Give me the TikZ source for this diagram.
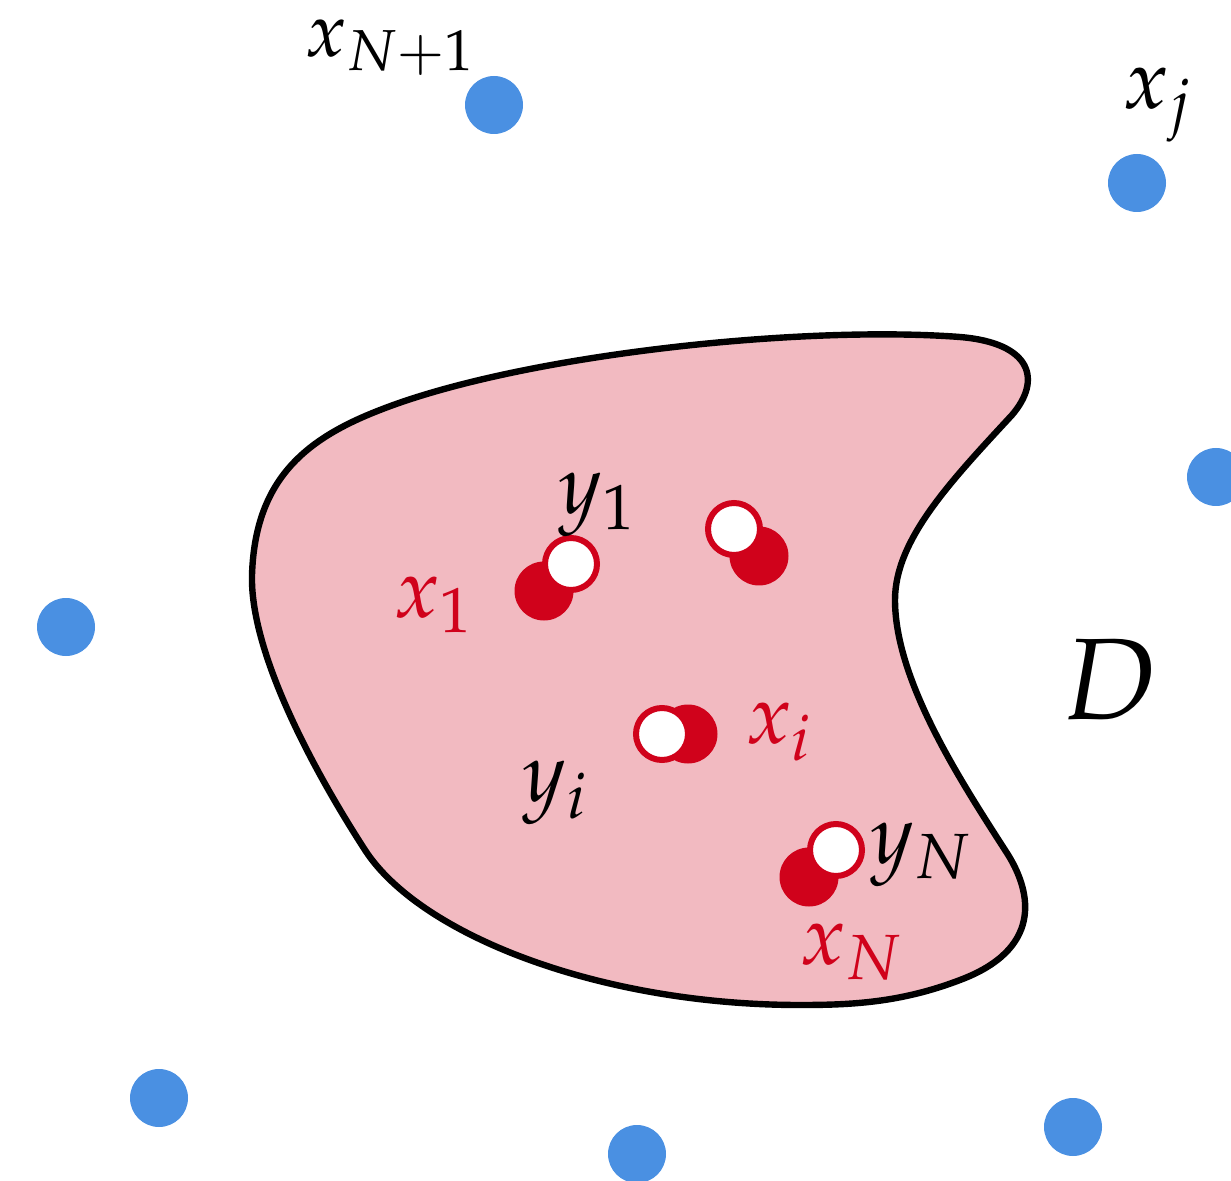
\documentclass[tikz,border=0pt]{standalone}
\usepackage{mathpazo}
\definecolor{dotblue}{HTML}{4A90E2}
\definecolor{dotred}{HTML}{D0021B}
\definecolor{blobfill}{HTML}{F2BAC1}
\begin{document}
\begin{tikzpicture}[x=0.5pt,y=-0.5pt,
  bluedot/.style={circle,fill=dotblue,inner sep=0pt,minimum size=29pt},
  reddot/.style={circle,fill=dotred,inner sep=0pt,minimum size=29.5pt},
  whitedot/.style={circle,fill=white,draw=dotred,line width=3pt,inner sep=0pt,minimum size=26pt},
  lbl/.style={inner sep=0pt,font=\fontsize{42}{50}\selectfont},
  redlbl/.style={lbl,text=dotred}]
\useasboundingbox (0,0) rectangle (1231,1181);
% region D
\draw[line width=3.2pt,fill=blobfill]
  (380,410) .. controls (520,355) and (800,325) .. (960,337)
  .. controls (1032,343) and (1042,380) .. (1012,415)
  .. controls (950,482) and (895,540) .. (895,600)
  .. controls (895,680) and (960,780) .. (1005,850)
  .. controls (1035,895) and (1040,950) .. (960,980)
  .. controls (900,1003) and (850,1005) .. (800,1005)
  .. controls (600,1005) and (420,935) .. (365,850)
  .. controls (310,765) and (250,650) .. (252,575)
  .. controls (255,480) and (305,439) .. (380,410) -- cycle;
% blue points
\node[bluedot] (b1) at (494,105) {};
\node[bluedot] (b2) at (1137,183) {};
\node[bluedot] (b3) at (1216,477) {};
\node[bluedot] (b4) at (66,627) {};
\node[bluedot] (b5) at (159,1098) {};
\node[bluedot] (b6) at (637,1154) {};
\node[bluedot] (b7) at (1073,1127) {};
% red pairs
\node[reddot] (r1) at (544,591) {};
\node[whitedot] (w1) at (571,564) {};
\node[reddot] (r2) at (759,556) {};
\node[whitedot] (w2) at (734,529) {};
\node[reddot] (ri) at (688,734) {};
\node[whitedot] (wi) at (662,734) {};
\node[reddot] (rN) at (809,877) {};
\node[whitedot] (wN) at (836,850) {};
% labels
\node[inner sep=0pt,font=\fontsize{38}{46}\selectfont] (lN1) at (390,48) {$x_{N+1}$};
\node[lbl] (lj) at (1157,105) {$x_j$};
\node[lbl] (ly1) at (597,505) {$y_1$};
\node[redlbl] (lx1) at (433,605) {$x_1$};
\node[redlbl] (lxi) at (779,732) {$x_i$};
\node[lbl] (lyi) at (555,793) {$y_i$};
\node[lbl] (lyN) at (921,855) {$y_N$};
\node[redlbl] (lxN) at (851,952) {$x_N$};
\node[inner sep=0pt,font=\fontsize{58}{66}\selectfont] (lD) at (1110,680) {$D$};
\end{tikzpicture}
\end{document}
